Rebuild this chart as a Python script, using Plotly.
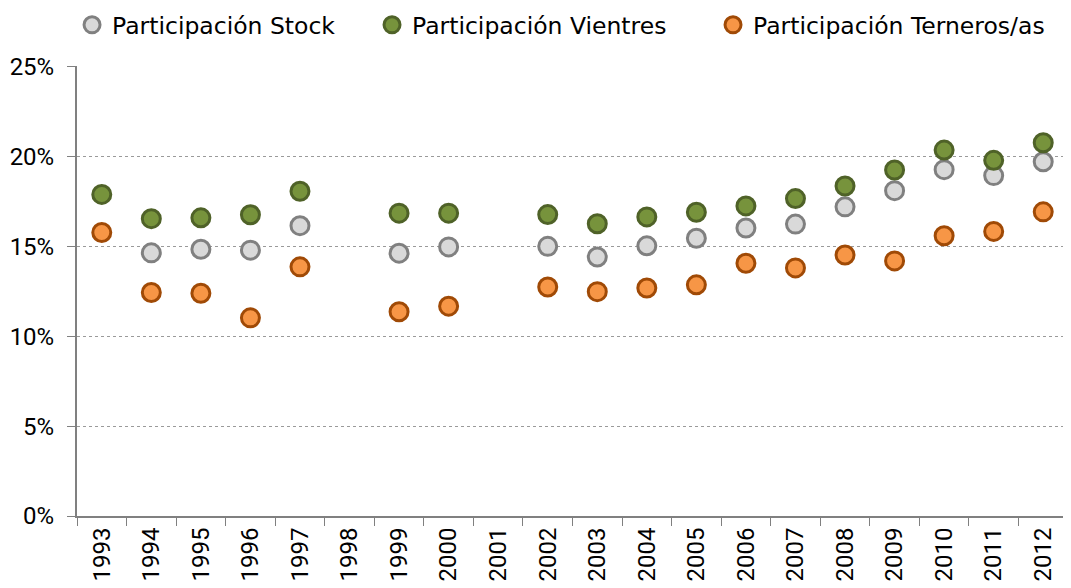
import plotly.graph_objects as go

years = [str(y) for y in range(1993, 2013)]
stock = [None, 14.65, 14.85, 14.8, 16.16, None, 14.63, 14.98, None, 15.01, 14.42, 15.04, 15.46, 16.03, 16.25, 17.21, 18.11, 19.28, 18.95, 19.72]
vientres = [17.9, 16.55, 16.6, 16.77, 18.08, None, 16.86, 16.86, None, 16.78, 16.27, 16.65, 16.91, 17.26, 17.67, 18.37, 19.26, 20.37, 19.8, 20.78]
terneros = [15.78, 12.44, 12.4, 11.03, 13.87, None, 11.37, 11.68, None, 12.75, 12.49, 12.69, 12.87, 14.07, 13.81, 14.53, 14.2, 15.6, 15.84, 16.93]

series = [
    ("Participación Stock", stock, "#D9D9D9", "#808080", "legend", -0.005),
    ("Participación Vientres", vientres, "#77933C", "#4F6228", "legend2", 0.2977),
    ("Participación Terneros/as", terneros, "#F79646", "#A04A06", "legend3", 0.6418),
]

text_font = "DejaVu Sans"
num_font = "Roboto"
fig = go.Figure()
legends = {}
for name, vals, fill, edge, lg, lx in series:
    fig.add_trace(go.Scatter(
        x=years, y=[v / 100 if v is not None else None for v in vals],
        mode="markers", name=name, legend=lg,
        marker=dict(size=18, color=fill, line=dict(color=edge, width=3)),
    ))
    legends[lg] = dict(orientation="h", x=lx, y=1.0911, xanchor="left", yanchor="middle",
                       font=dict(family=text_font, size=23.5, color="black"),
                       bgcolor="rgba(0,0,0,0)", itemsizing="trace")

fig.update_layout(
    width=1063, height=580,
    paper_bgcolor="white", plot_bgcolor="white",
    margin=dict(l=69, r=3, t=58, b=72, autoexpand=False),
    font=dict(family=num_font, size=24, color="black"),
    showlegend=True,
    **legends,
)
fig.update_xaxes(
    type="category", categoryorder="array", categoryarray=years,
    tickangle=-90, tickson="boundaries", ticks="outside", ticklen=8,
    tickcolor="#808080", showline=True, linecolor="#808080", linewidth=2,
    showgrid=False, tickfont=dict(family=num_font, size=24), range=[-0.5, 19.5],
    automargin=False,
)
fig.update_yaxes(
    range=[0, 0.2505], tickvals=[0, 0.05, 0.10, 0.15, 0.20, 0.25], tickformat=".0%",
    ticks="outside", ticklen=8, ticklabelstandoff=8,
    tickcolor="#808080", showline=True, linecolor="#808080", linewidth=2,
    showgrid=True, gridcolor="#9a9a9a", griddash="dot", gridwidth=1,
    zeroline=False, tickfont=dict(family=num_font, size=24), automargin=False,
)
fig.write_html("out.html")
